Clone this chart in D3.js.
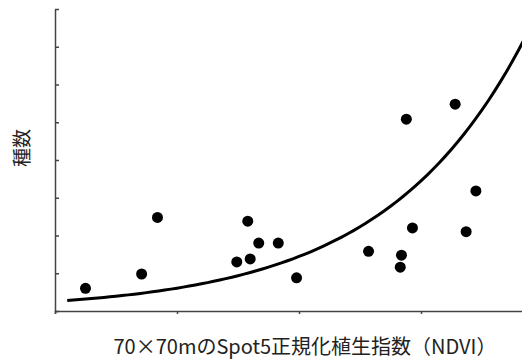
<!DOCTYPE html>
<html>
<head>
<meta charset="utf-8">
<script src="https://cdn.jsdelivr.net/npm/d3@7"></script>
<style>
  body { margin: 0; background: #fff; }
  text { font-family: "Noto Sans CJK JP", "Noto Sans", sans-serif; }
</style>
</head>
<body>
<svg id="chart"></svg>
<script>
// NDVI 値と種数
var ndvi = [0.225, 0.271, 0.284, 0.358, 0.367, 0.383, 0.349, 0.360, 0.398,
            0.545, 0.493, 0.537, 0.457, 0.484, 0.483, 0.488, 0.528];
var species = [3.0, 4.9, 12.4, 11.9, 9.0, 9.0, 6.5, 6.9, 4.4,
               15.9, 11.0, 10.5, 7.9, 7.4, 5.8, 25.4, 27.4];
// 指数近似 y = a * exp(b * x)
var fitA = 0.2225, fitB = 8.7;
var fitRange = [0.21, 0.59];
var xTicks = [0.2, 0.3, 0.4, 0.5, 0.6];
var yTicks = [0, 5, 10, 15, 20, 25, 30, 35, 40];

var W = 522, H = 360;

var svg = d3.select("#chart").attr("width", W).attr("height", H);

// 軸スケール
var x = d3.scaleLinear().domain([0.2, 0.6]).range([55, 543]);
var y = d3.scaleLinear().domain([0, 40]).range([311, 9]);

// x軸（目盛は下向き）
svg.append("g")
    .attr("transform", "translate(0," + y(0) + ")")
    .call(d3.axisBottom(x).tickValues(xTicks).tickSize(3).tickSizeOuter(3).tickFormat(""))
    .call(function (g) {
        g.selectAll("path, line").attr("stroke", "#444").attr("stroke-width", 1.5);
    });

// y軸（目盛は内向き）
svg.append("g")
    .attr("transform", "translate(" + x(0.2) + ",0)")
    .call(d3.axisLeft(y).tickValues(yTicks).tickSize(-4).tickSizeOuter(0).tickFormat(""))
    .call(function (g) {
        g.selectAll("path, line").attr("stroke", "#444").attr("stroke-width", 1.5);
    });

// 近似曲線
var curve = d3.range(fitRange[0], fitRange[1], 0.005).map(function (v) {
    return [v, fitA * Math.exp(fitB * v)];
});
svg.append("path")
    .datum(curve)
    .attr("fill", "none")
    .attr("stroke", "#000")
    .attr("stroke-width", 3)
    .attr("d", d3.line()
        .x(function (d) { return x(d[0]); })
        .y(function (d) { return y(d[1]); }));

// 点
svg.selectAll("circle.pt")
    .data(ndvi)
    .enter().append("circle")
    .attr("class", "pt")
    .attr("cx", function (d) { return x(d); })
    .attr("cy", function (d, i) { return y(species[i]); })
    .attr("r", 5.5)
    .attr("fill", "#000");

// ラベル
svg.append("text")
    .attr("x", 305)
    .attr("y", 354)
    .attr("text-anchor", "middle")
    .attr("font-size", 20)
    .attr("fill", "#222")
    .text("70×70mのSpot5正規化植生指数（NDVI）");

svg.append("text")
    .attr("transform", "translate(29,148) rotate(-90)")
    .attr("text-anchor", "middle")
    .attr("font-size", 19)
    .attr("fill", "#222")
    .text("種数");
</script>
</body>
</html>
